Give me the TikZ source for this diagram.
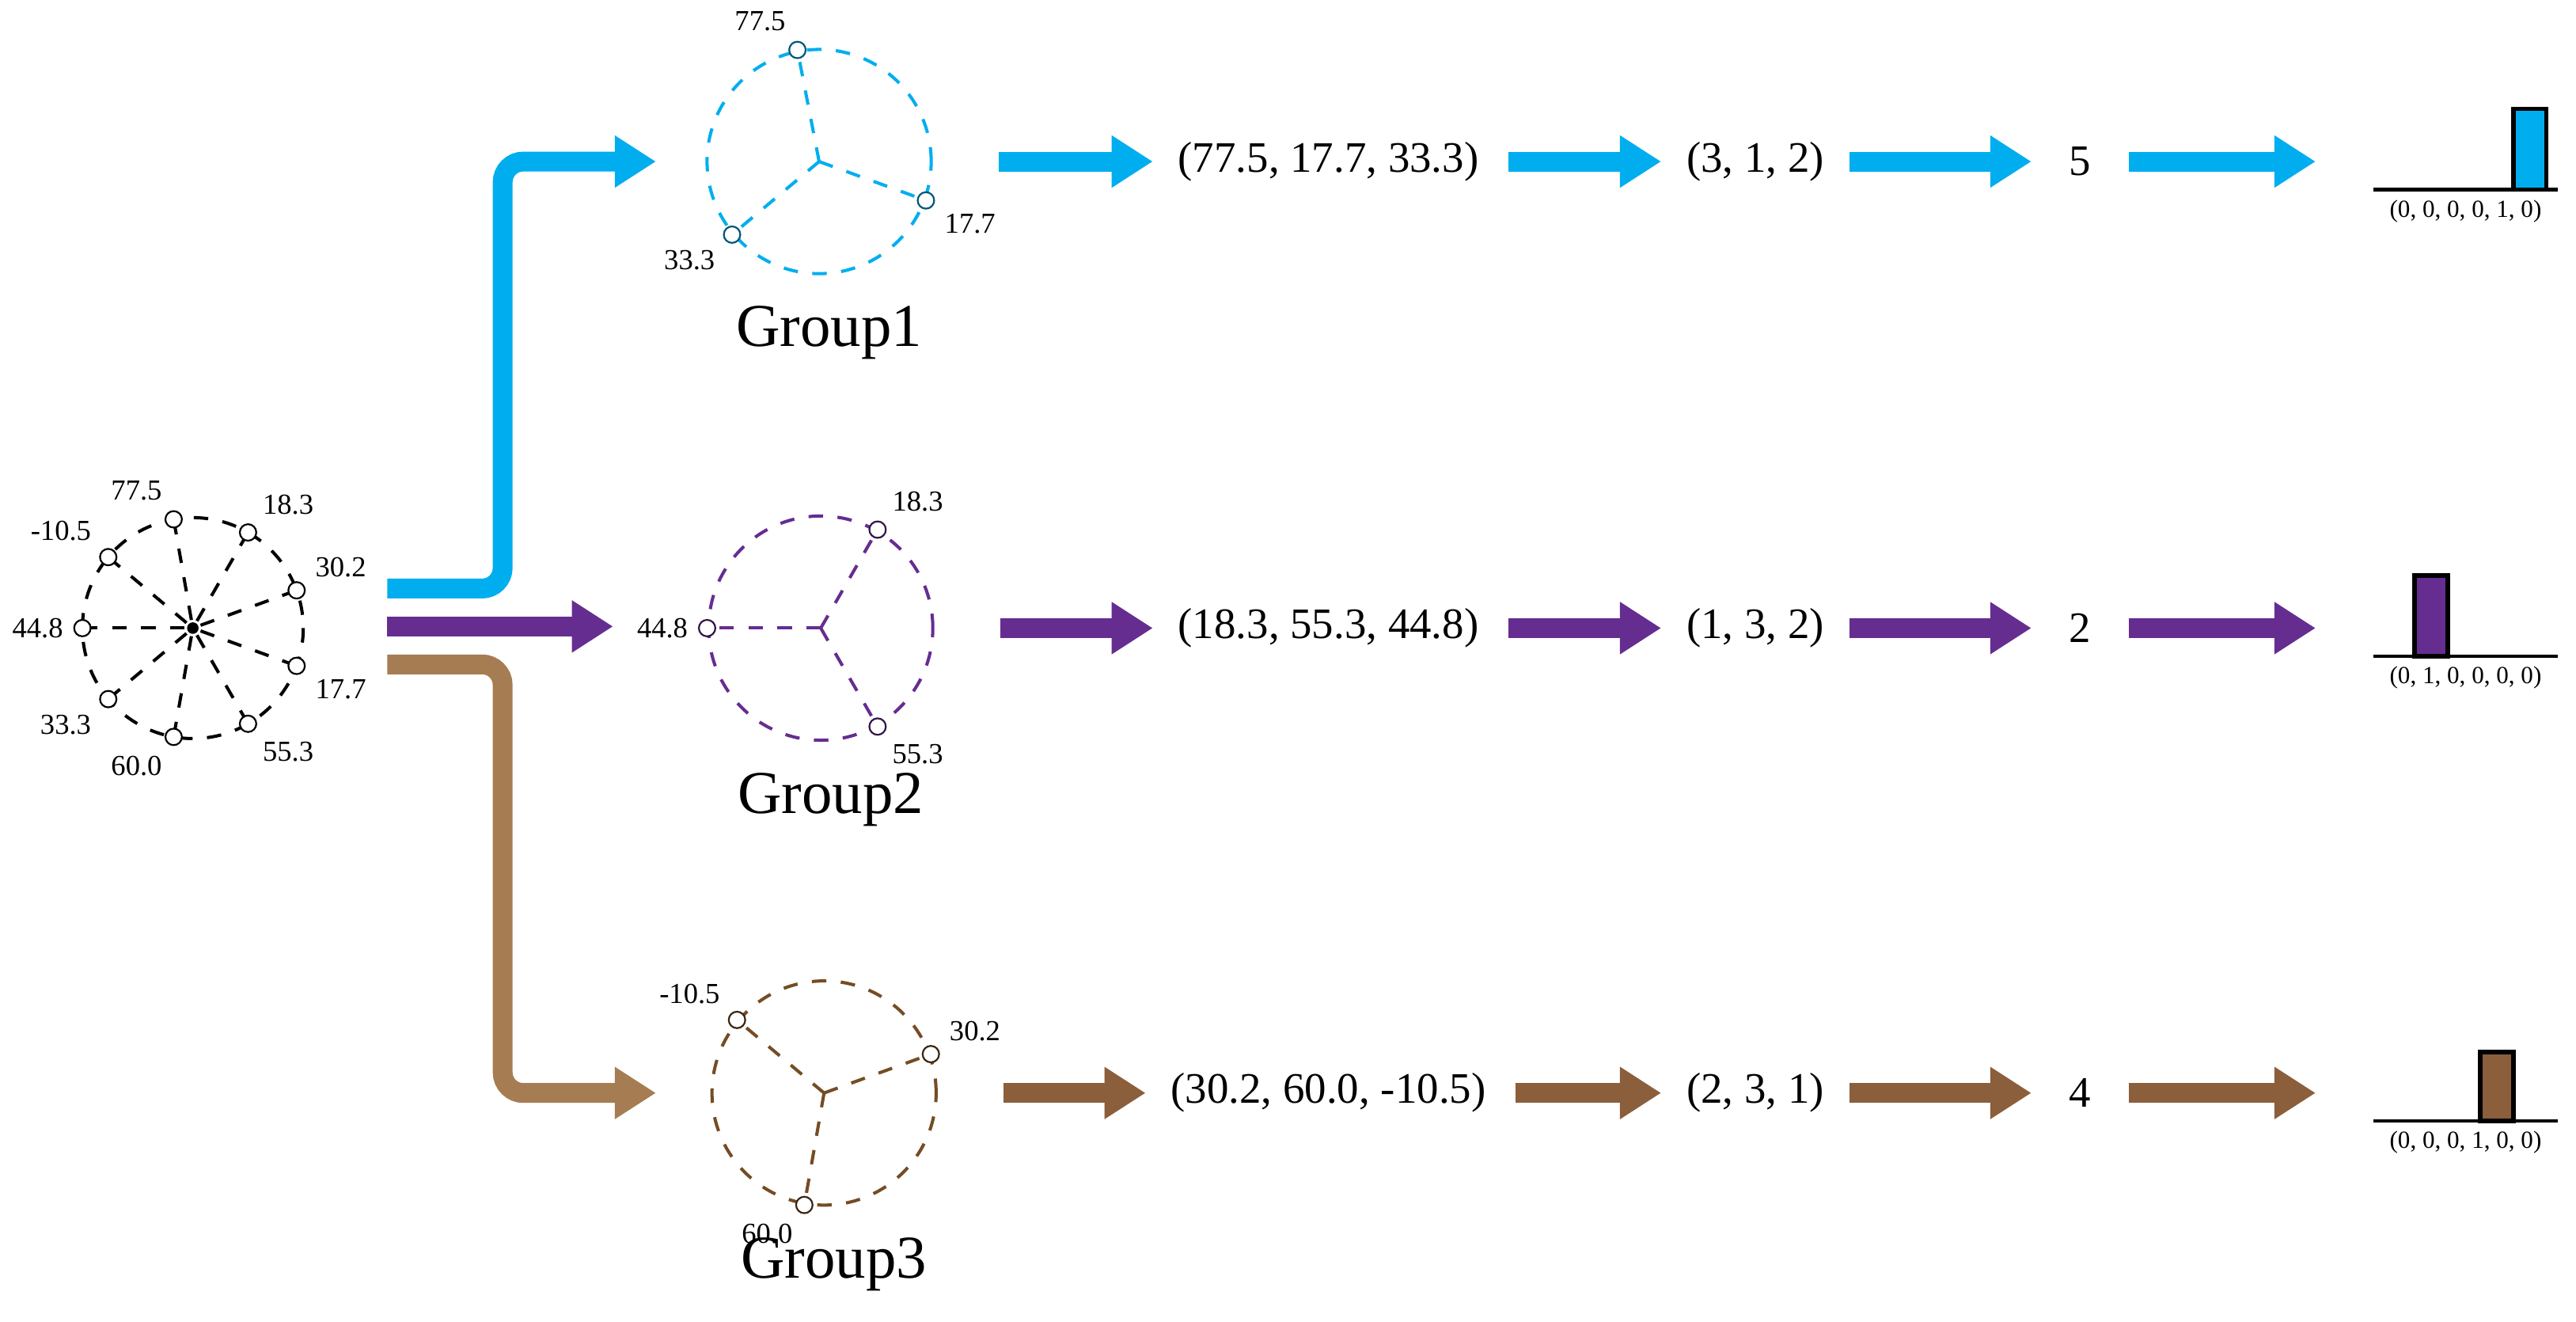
\documentclass[tikz,border=0pt]{standalone}
\usepackage{fontspec}
\setmainfont{Liberation Serif}
\usetikzlibrary{arrows.meta,calc}
\definecolor{gblue}{HTML}{00AEEF}
\definecolor{gpurple}{HTML}{662D91}
\definecolor{gbrownA}{HTML}{A67C52}
\definecolor{gbrownB}{HTML}{8B5E3C}
\definecolor{gbrownC}{HTML}{754C24}
\tikzset{
	pt/.style={circle, draw=black, fill=white, inner sep=0pt, minimum size=0.2cm, line width=0.6pt},
	lab/.style={font=\fontsize{11}{11}\selectfont, label distance=-3pt},
	spoke/.style={dashed, line width=1.1pt, dash pattern=on 5pt off 5pt},
	flow/.style={line width=0.24cm, -{Triangle[length=0.5cm,width=0.6cm]}},
	vec/.style={font=\fontsize{15}{15}\selectfont, inner sep=0pt},
	grp/.style={font=\fontsize{21}{21}\selectfont},
	hlab/.style={font=\fontsize{8.5}{8.5}\selectfont}
}
\begin{document}
\begin{tikzpicture}[x=2cm, y=-2cm]
	\useasboundingbox (0,0) rectangle (15.63,8.015);

	% input cluster
	\coordinate (c0) at (1.17,3.81);
	\fill (c0) circle (0.035);
	\draw[spoke] (c0) circle (0.67);
	\foreach \a/\t in {100/77.5,140/-10.5,180/44.8,220/33.3,260/60.0,300/55.3,340/17.7,20/30.2,60/18.3} {
		\draw[spoke, shorten <=0.1cm] (c0) -- ($(c0)+(-\a:0.67)$);
		\node[pt, lab, label=\a:\t] (p\a) at ($(c0)+(-\a:0.67)$) {};
	}

	% groups
	\foreach \i/\x/\y/\c/\pts in {
		1/4.97/0.98/gblue/{101/77.5,-20/17.7,-140/33.3},
		2/4.98/3.81/gpurple/{60/18.3,180/44.8,-60/55.3},
		3/5.00/6.63/gbrownC/{140/-10.5,20/30.2,-100/60.0}} {
		\node[circle, draw=\c, spoke, minimum size=2.72cm, inner sep=0pt] (g\i) at (\x,\y) {};
		\foreach \a/\t in \pts {
			\draw[spoke, draw=\c] (g\i.center) -- (g\i.\a);
			\node[pt, lab, draw=\c!50!black, label=\a:\t] at (g\i.\a) {};
		}
		\node[grp] (n\i) at (\x+0.06,\y+1.04) {Group\i};
	}

	% branches
	\coordinate (s1) at (2.35,3.57);
	\coordinate (s2) at (2.35,3.80);
	\coordinate (s3) at (2.35,4.03);
	\coordinate (e1) at (3.98,0.98);
	\coordinate (e2) at (3.72,3.80);
	\coordinate (e3) at (3.98,6.63);
	\draw[flow, gblue, rounded corners=0.25cm] (s1) -- ++(0.7,0) |- (e1);
	\draw[flow, gpurple] (s2) -- (e2);
	\draw[flow, gbrownA, rounded corners=0.25cm] (s3) -- ++(0.7,0) |- (e3);

	% rows
	\foreach \i/\y/\c/\v/\r/\k/\bin/\h in {
		1/0.98/gblue/{(77.5, 17.7, 33.3)}/{(3, 1, 2)}/5/{(0, 0, 0, 0, 1, 0)}/0.49,
		2/3.81/gpurple/{(18.3, 55.3, 44.8)}/{(1, 3, 2)}/2/{(0, 1, 0, 0, 0, 0)}/0.49,
		3/6.63/gbrownB/{(30.2, 60.0, -10.5)}/{(2, 3, 1)}/4/{(0, 0, 0, 1, 0, 0)}/0.42} {
		\node[vec] (v\i) at (8.06,\y) {\v};
		\node[vec] (r\i) at (10.65,\y) {\r};
		\node[vec] (k\i) at (12.62,\y) {\k};
		\coordinate (hb\i) at (14.05,\y);
		\coordinate (ba\i) at (14.40,\y+0.17);
		\coordinate (bb\i) at (15.52,\y+0.17);
		\draw[flow, \c, shorten <=0.8cm, shorten >=0.3cm] (g\i.east) -- (v\i.west);
		\draw[flow, \c, shorten <=0.35cm, shorten >=0.3cm] (v\i.east) -- (r\i.west);
		\draw[flow, \c, shorten <=0.3cm, shorten >=0.45cm] (r\i.east) -- (k\i.west);
		\draw[flow, \c, shorten <=0.45cm] (k\i.east) -- (hb\i);
		\draw[fill=\c, line width=1.6pt] (14.35+0.2*\k-0.1,\y+0.17) rectangle ++(0.2,-\h);
		\draw[line width=1.2pt] (ba\i) -- (bb\i);
		\node[hlab] (h\i) at (14.96,\y+0.30) {\bin};
	}
\end{tikzpicture}
\end{document}
